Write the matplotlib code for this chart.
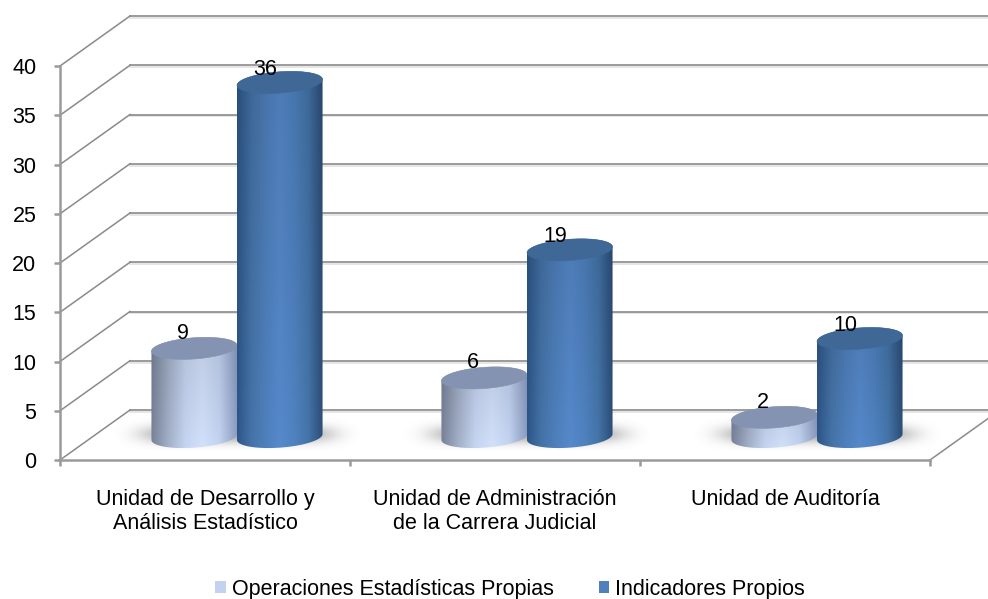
import numpy as np
import matplotlib
matplotlib.use("Agg")
import matplotlib.pyplot as plt
from matplotlib.colors import to_rgb
from matplotlib.patches import Patch, PathPatch, Polygon
from matplotlib.path import Path

plt.rcParams["font.family"] = ["Liberation Sans", "DejaVu Sans"]

categories = ["Unidad de Desarrollo y\nAnálisis Estadístico",
              "Unidad de Administración\nde la Carrera Judicial",
              "Unidad de Auditoría"]
operaciones = [9, 6, 2]
indicadores = [36, 19, 10]
yticks = [0, 5, 10, 15, 20, 25, 30, 35, 40]
series_names = ["Operaciones Estadísticas Propias", "Indicadores Propios"]

# fake 3d: back wall offset and cylinder floor offset, in data units
WALL_DX, WALL_DY = 70 / 290, 50 / 9.85
BASE_DX, BASE_DY = 32 / 290, 23 / 9.85
BAR_W = 0.295
ELL_H = 1.08
TILT = 0.3
FONT = 15.5

LIGHT_SIDE = ["#78839a", "#a3b0c8", "#c6d5f2", "#d3e1fb", "#c3d3f1", "#8d9fc4"]
DARK_SIDE = ["#2d5688", "#4573a8", "#4f80bc", "#5689cb", "#4f82c0", "#4474a8", "#2c4d78"]
LIGHT_TOP = "#8493b1"
DARK_TOP = "#3f6896"


def ellipse_pts(xc, yc, start, stop):
    t = np.linspace(start, stop, 60)
    xs = xc + BAR_W / 2 * np.cos(t)
    ys = yc + ELL_H * np.sin(t) + TILT * np.cos(t)
    return np.column_stack([xs, ys])


def draw_cylinder(ax, xc, value, side_colors, top_color, z):
    y0 = BASE_DY
    y1 = value + BASE_DY
    low = ellipse_pts(xc, y0, np.pi, 2 * np.pi)
    high = ellipse_pts(xc, y1, 0, np.pi)
    outline = np.vstack([low, high, low[:1]])

    cols = np.array([to_rgb(c) for c in side_colors])
    u = np.linspace(0, 1, 120)
    pos = np.linspace(0, 1, len(cols))
    row = np.column_stack([np.interp(u, pos, cols[:, i]) for i in range(3)])
    # side gets a bit darker towards the top
    fade = np.linspace(0.9, 1.0, 40)[:, None, None]
    img = np.clip(row[None, :, :] * fade, 0, 1)

    im = ax.imshow(img, extent=(xc - BAR_W / 2, xc + BAR_W / 2, y0 - ELL_H - 0.3, y1 + ELL_H + 0.3),
                   origin="upper", aspect="auto", zorder=z, interpolation="bilinear")
    clip = PathPatch(Path(outline, closed=True), transform=ax.transData, facecolor="none", edgecolor="none")
    ax.add_patch(clip)
    im.set_clip_path(clip)

    top = ellipse_pts(xc, y1, 0, 2 * np.pi)
    ax.add_patch(Polygon(top, closed=True, facecolor=top_color, edgecolor=top_color, lw=0.4, zorder=z + 0.1))


def draw_shadow(ax, xc):
    gx = np.linspace(-1, 1, 200)
    gy = np.linspace(-1, 1, 60)
    xx, yy = np.meshgrid(gx, gy)
    alpha = np.exp(-(np.abs(xx) / 0.72) ** 6) * np.exp(-(np.abs(yy) / 0.55) ** 2) * 0.5
    rgba = np.zeros((60, 200, 4))
    rgba[..., :3] = 0.3
    rgba[..., 3] = alpha
    ax.imshow(rgba, extent=(xc - 0.46, xc + 0.46, BASE_DY - 1.3, BASE_DY + 1.9), origin="lower",
              aspect="auto", zorder=2, interpolation="bilinear")


fig = plt.figure(figsize=(9.88, 5.99), dpi=100)
ax = fig.add_axes([0, 0, 1, 1])
ax.patch.set_alpha(0)

xlim = (-60 / 290, 928 / 290)
ylim = (-139 / 9.85, 460 / 9.85)

# back wall grid plus the diagonals on the side wall
for v in yticks:
    ax.plot([WALL_DX, 3 + WALL_DX], [v + WALL_DY - 0.18] * 2, color="#e2e2e2", lw=1.2, zorder=1)
    ax.plot([WALL_DX, 3 + WALL_DX], [v + WALL_DY] * 2, color="#8a8a8a", lw=1.2, zorder=1.1)
    ax.plot([0, WALL_DX], [v, v + WALL_DY], color="#8a8a8a", lw=1.1, zorder=1.1)
ax.plot([3, 3 + WALL_DX], [0, WALL_DY], color="#8a8a8a", lw=1.1, zorder=1.1)

centers = np.arange(len(categories)) + 0.5
for i, xc in enumerate(centers):
    boundary = xc + BASE_DX
    draw_shadow(ax, boundary)
    draw_cylinder(ax, boundary - BAR_W / 2, operaciones[i], LIGHT_SIDE, LIGHT_TOP, 3)
    draw_cylinder(ax, boundary + BAR_W / 2, indicadores[i], DARK_SIDE, DARK_TOP, 4)
    ax.text(boundary - BAR_W / 2 - 0.04, operaciones[i] + BASE_DY + 1.55, str(operaciones[i]),
            ha="center", va="center", fontsize=FONT, color="black", zorder=6)
    ax.text(boundary + BAR_W / 2 - 0.05, indicadores[i] + BASE_DY + 1.35, str(indicadores[i]),
            ha="center", va="center", fontsize=FONT, color="black", zorder=6)

ax.set_xlim(xlim)
ax.set_ylim(ylim)

for side in ["top", "right"]:
    ax.spines[side].set_visible(False)
ax.spines["left"].set_position(("data", 0))
ax.spines["left"].set_bounds(0, 40)
ax.spines["bottom"].set_position(("data", 0))
ax.spines["bottom"].set_bounds(0, 3)
for side in ["left", "bottom"]:
    ax.spines[side].set_color("#9a9a9a")
    ax.spines[side].set_linewidth(1.8)

ax.set_yticks(yticks)
ax.tick_params(axis="y", length=4, width=1.8, color="#9a9a9a", labelsize=FONT, pad=13)
ax.set_xticks([0, 1, 2, 3])
ax.set_xticklabels([])
ax.tick_params(axis="x", which="major", length=4, width=1.8, color="#9a9a9a")
ax.set_xticks(centers, minor=True)
ax.set_xticklabels(categories, minor=True, fontsize=FONT, linespacing=1.2)
ax.tick_params(axis="x", which="minor", length=0, pad=21)

handles = [Patch(facecolor="#c3d2ee", edgecolor="none"), Patch(facecolor="#4f81bd", edgecolor="none")]
ax.legend(handles, series_names, loc="center", bbox_to_anchor=(510 / 988, 10 / 599), ncol=2, frameon=False,
          fontsize=FONT, handlelength=0.5, handleheight=0.5, handletextpad=0.28, columnspacing=2.1,
          borderpad=0, borderaxespad=0)

fig.savefig("out.png", dpi=100)
plt.close(fig)
